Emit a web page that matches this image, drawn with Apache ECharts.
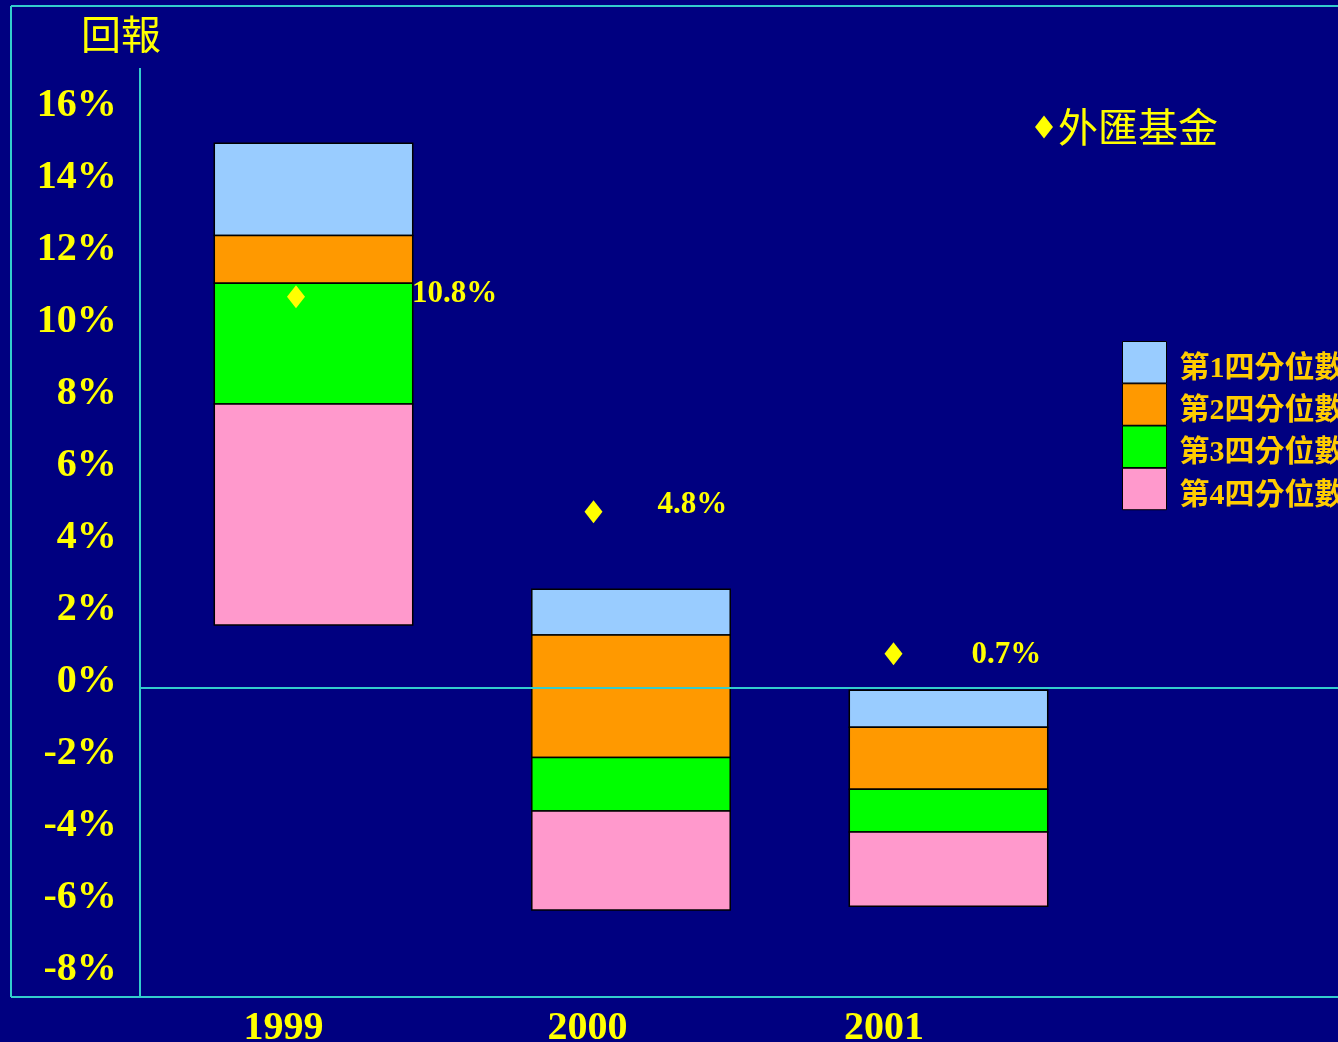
<!DOCTYPE html>
<html>
<head>
<meta charset="utf-8">
<script src="https://cdn.jsdelivr.net/npm/echarts@6/dist/echarts.min.js"></script>
<style>
html,body{margin:0;padding:0;background:#000080;}
#chart{width:1338px;height:1042px;}
</style>
</head>
<body>
<div id="chart"></div>
<script>
// ---- data ----
const years = ['1999', '2000', '2001'];
// quartile boundaries (%)
const q1Top    = [15.13, 2.74, -0.06];   // top of 1st quartile
const q1q2     = [12.57, 1.47, -1.09];   // 1st / 2nd boundary
const q2q3     = [11.24, -1.93, -2.81];  // 2nd / 3rd boundary
const q3q4     = [7.89, -3.42, -4.00];   // 3rd / 4th boundary
const q4Bottom = [1.75, -6.17, -6.06];   // bottom of 4th quartile
const fundReturn = [10.8, 4.8, 0.7];     // 外匯基金
const quartileNames = ['第1四分位數', '第2四分位數', '第3四分位數', '第4四分位數'];
const fundName = '外匯基金';

// ---- layout / style (not data) ----
const quartileColors = ['#99CCFF', '#FF9900', '#00FF00', '#FF99CC'];
const markerShift = [[-17.5, -2.5], [-37.5, -3.5], [-55, -9]];
const labelShift = [[116, -3], [64, -7], [78, 1]];
const yearLabelPad = [60, 87, 129];

const bounds = [q1Top, q1q2, q2q3, q3q4, q4Bottom];
function segData(k) {
  return years.map((y, i) => [i, bounds[k + 1][i], bounds[k][i]]);
}
function renderItem(params, api) {
  const x = api.value(0), lo = api.value(1), hi = api.value(2);
  const p1 = api.coord([x, hi]);
  const p2 = api.coord([x, lo]);
  const w = api.size([1, 0])[0] * 0.625;
  return {
    type: 'rect',
    shape: { x: p1[0] - w / 2, y: p1[1], width: w, height: p2[1] - p1[1] },
    style: { fill: api.visual('color'), stroke: '#000', lineWidth: 1.5 }
  };
}

const serif = "'Liberation Serif', 'Times New Roman', 'Noto Sans CJK TC', serif";
const cjk = "'Noto Sans CJK TC', sans-serif";

const series = quartileNames.map((name, k) => ({
  name: name,
  type: 'custom',
  renderItem: renderItem,
  itemStyle: { color: quartileColors[k] },
  encode: { x: 0, y: [1, 2] },
  data: segData(k),
  z: 2
}));
series.push({
  name: fundName,
  type: 'scatter',
  symbol: 'diamond',
  symbolSize: [18, 23],
  itemStyle: { color: '#FFFF00', opacity: 1 },
  z: 5,
  data: fundReturn.map((v, i) => ({
    value: v,
    symbolOffset: markerShift[i],
    label: { offset: labelShift[i] }
  })),
  label: {
    show: true,
    position: 'inside',
    align: 'left',
    verticalAlign: 'middle',
    formatter: p => p.value + '%',
    color: '#FFFF00',
    opacity: 1,
    fontFamily: serif,
    fontWeight: 'bold',
    fontSize: 31
  }
});

const rich = {};
yearLabelPad.forEach((p, i) => {
  rich['y' + i] = {
    color: '#FFFF00', fontFamily: serif, fontWeight: 'bold', fontSize: 40,
    padding: [0, p, 0, 0]
  };
});

const chart = echarts.init(document.getElementById('chart'));
chart.setOption({
  backgroundColor: '#000080',
  animation: false,
  title: {
    text: '回報',
    left: 76, top: 9,
    textStyle: { color: '#FFFF00', fontFamily: cjk, fontWeight: 'normal', fontSize: 40 }
  },
  grid: { left: 154.75, right: 230.75, top: 112, bottom: 66, outerBoundsMode: 'none', containLabel: false },
  xAxis: {
    type: 'category',
    data: years,
    axisLine: { show: false },
    axisTick: { show: false },
    axisLabel: {
      margin: 33,
      formatter: (v, i) => '{y' + i + '|' + v + '}',
      rich: rich
    }
  },
  yAxis: {
    type: 'value',
    min: -8, max: 16, interval: 2,
    axisLine: { show: false },
    axisTick: { show: false },
    splitLine: { show: false },
    axisLabel: {
      margin: 38,
      formatter: v => '{t|' + v + '%}',
      rich: {
        t: { color: '#FFFF00', fontFamily: serif, fontWeight: 'bold', fontSize: 40, padding: [0, 0, 12, 0] }
      }
    }
  },
  legend: [{
    data: quartileNames,
    orient: 'vertical',
    left: 1122, top: 341,
    padding: 0,
    itemGap: -1,
    itemWidth: 44, itemHeight: 41.5,
    icon: 'rect',
    selectedMode: false,
    itemStyle: { borderColor: '#000', borderWidth: 1 },
    formatter: n => '{q|' + n + '}',
    textStyle: {
      rich: {
        q: { color: '#FFCC00', fontFamily: serif, fontWeight: 'bold', fontSize: 30, padding: [14, 0, 0, 8] }
      }
    }
  }, {
    data: [fundName],
    left: 1035, top: 107,
    padding: 0,
    icon: 'diamond',
    itemWidth: 18, itemHeight: 23,
    selectedMode: false,
    textStyle: {
      color: '#FFFF00', fontFamily: cjk, fontSize: 40,
      textShadowColor: '#000', textShadowOffsetX: 2, textShadowOffsetY: 2, textShadowBlur: 0
    }
  }],
  series: series
});

const zeroY = chart.convertToPixel({ yAxisIndex: 0 }, 0);
const lineStyle = { stroke: '#33CCCC', lineWidth: 2 };
function seg(x1, y1, x2, y2) {
  return { type: 'line', z: 100, shape: { x1: x1, y1: y1, x2: x2, y2: y2 }, style: lineStyle, silent: true };
}
chart.setOption({
  graphic: [
    seg(11, 6, 1338, 6),
    seg(11, 6, 11, 997),
    seg(11, 997, 1338, 997),
    seg(140, 68, 140, 997),
    seg(140, zeroY, 1338, zeroY)
  ]
});
</script>
</body>
</html>
